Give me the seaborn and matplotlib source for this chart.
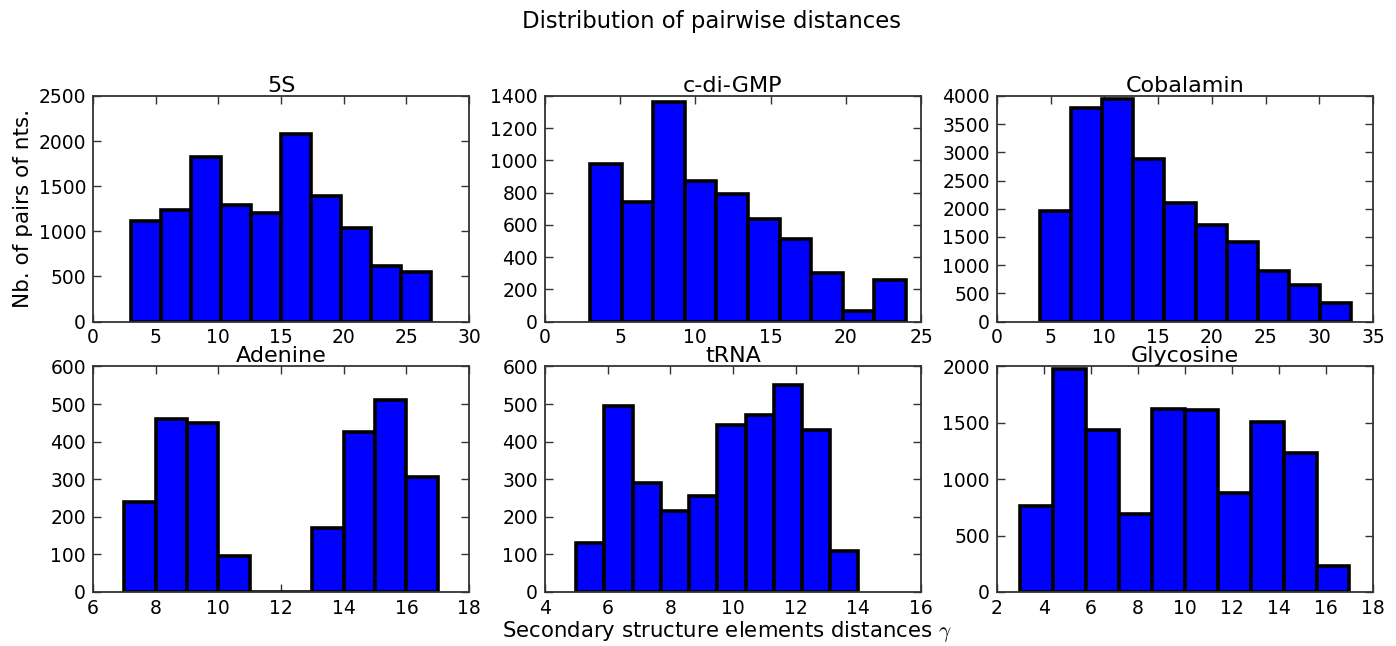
import matplotlib
matplotlib.use('Agg')
import matplotlib.pyplot as plt
from matplotlib.ticker import MultipleLocator
import seaborn as sns
import numpy as np

sns.set_style("ticks")
plt.rcParams['font.family'] = ['DejaVu Sans']
plt.rcParams['mathtext.fontset'] = 'cm'
plt.rcParams['text.color'] = 'black'
plt.rcParams['axes.labelcolor'] = 'black'
plt.rcParams['xtick.color'] = 'black'
plt.rcParams['ytick.color'] = 'black'

# panel names, histogram ranges (10 bins each) and bar counts
names = ["5S", "c-di-GMP", "Cobalamin", "Adenine", "tRNA", "Glycosine"]
ranges = [(3, 27), (3, 24), (4, 33), (7, 17), (5, 14), (3, 17)]
counts_5s = [1120, 1240, 1820, 1290, 1200, 2080, 1390, 1040, 620, 545]
counts_cdigmp = [975, 740, 1365, 870, 790, 635, 510, 300, 65, 255]
counts_cobalamin = [1960, 3780, 3950, 2880, 2100, 1720, 1410, 900, 655, 330]
counts_adenine = [240, 460, 450, 95, 0, 0, 170, 425, 510, 305]
counts_trna = [130, 495, 290, 215, 255, 445, 470, 550, 430, 110]
counts_glycosine = [760, 1980, 1440, 690, 1620, 1615, 880, 1510, 1230, 230]
all_counts = [counts_5s, counts_cdigmp, counts_cobalamin,
              counts_adenine, counts_trna, counts_glycosine]

# axis limits and tick steps
xlims = [(0, 30), (0, 25), (0, 35), (6, 18), (4, 16), (2, 18)]
ylims = [(0, 2500), (0, 1400), (0, 4000), (0, 600), (0, 600), (0, 2000)]
xsteps = [5, 5, 5, 2, 2, 2]
ysteps = [500, 200, 500, 100, 100, 500]

fig, axes = plt.subplots(2, 3, figsize=(13.96, 6.46), dpi=100)
fig.subplots_adjust(left=0.0666, right=0.9835, top=0.8514, bottom=0.0836,
                    wspace=0.2016, hspace=0.199)

for i, ax in enumerate(axes.flat):
    lo, hi = ranges[i]
    edges = np.linspace(lo, hi, 11)
    centers = (edges[:-1] + edges[1:]) / 2
    sns.histplot(x=centers, weights=all_counts[i], bins=10, binrange=(lo, hi),
                 color="#0000ff", edgecolor="black", linewidth=2.6,
                 alpha=1, ax=ax)
    ax.set_xlim(*xlims[i])
    ax.set_ylim(*ylims[i])
    ax.xaxis.set_major_locator(MultipleLocator(xsteps[i]))
    ax.yaxis.set_major_locator(MultipleLocator(ysteps[i]))
    ax.set_title(names[i], fontsize=16, pad=3)
    ax.set_xlabel("")
    ax.set_ylabel("")
    ax.tick_params(direction="in", top=True, right=True, length=6,
                   width=1, labelsize=13.5, color="#333333", pad=5)
    for s in ax.spines.values():
        s.set_linewidth(1.3)
        s.set_color("#333333")

axes[0, 0].set_ylabel("Nb. of pairs of nts.", fontsize=15.5, labelpad=4)
axes[1, 1].set_xlabel(r"Secondary structure elements distances $\gamma$",
                      fontsize=15.3)
axes[1, 1].xaxis.set_label_coords(0.485, -0.12)
fig.suptitle("Distribution of pairwise distances", fontsize=16.4, x=0.51, y=0.985)

plt.savefig("out.png", dpi=100)
plt.close()
